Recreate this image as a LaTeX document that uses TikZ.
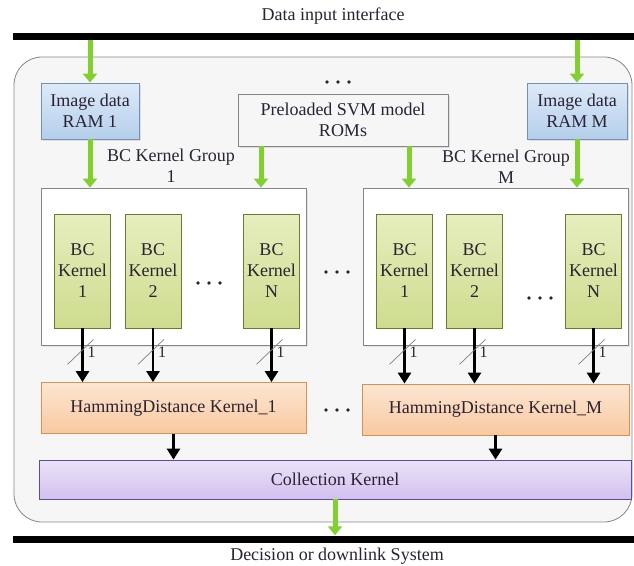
\documentclass[tikz,border=0pt]{standalone}
\usepackage{fontspec}
\setmainfont{Liberation Serif}
\usetikzlibrary{arrows.meta,calc,shadows}
\definecolor{txt}{HTML}{2B2233}
\definecolor{ramline}{HTML}{7590B2}
\definecolor{ramtop}{HTML}{DDEAF8}
\definecolor{rambot}{HTML}{B4CFEB}
\definecolor{kline}{HTML}{6C7A36}
\definecolor{ktop}{HTML}{E6EEBE}
\definecolor{kbot}{HTML}{CEDC8E}
\definecolor{hline}{HTML}{D6924F}
\definecolor{htop}{HTML}{FDE6D2}
\definecolor{hbot}{HTML}{F8C9A0}
\definecolor{cline}{HTML}{5B4D9C}
\definecolor{ctop}{HTML}{ECE2F9}
\definecolor{cbot}{HTML}{D2C0EE}
\definecolor{grayline}{HTML}{858585}
\definecolor{outerfill}{HTML}{F6F6F6}
\definecolor{greenarrow}{HTML}{82D030}
\begin{document}
\begin{tikzpicture}[x=1pt,y=-1pt,
  every node/.style={font=\fontsize{18}{21}\selectfont, text=txt, inner sep=0pt, align=center},
  box/.style={draw, line width=0.8pt},
  rambox/.style={box, draw=ramline, top color=ramtop, bottom color=rambot,
     minimum width=98pt, minimum height=56pt,
     drop shadow={opacity=0.2, shadow xshift=2pt, shadow yshift=-2pt}},
  svmbox/.style={box, draw=grayline, fill=outerfill,
     minimum width=210pt, minimum height=52pt,
     drop shadow={opacity=0.2, shadow xshift=2pt, shadow yshift=-2pt}},
  groupbox/.style={box, draw=grayline, fill=white,
     minimum width=265pt, minimum height=157pt,
     drop shadow={opacity=0.15, shadow xshift=2pt, shadow yshift=-2pt}},
  kbox/.style={box, draw=kline, top color=ktop, bottom color=kbot,
     minimum width=56pt, minimum height=114pt},
  hdbox/.style={box, draw=hline, top color=htop, bottom color=hbot,
     minimum height=51pt},
  collbox/.style={box, draw=cline, top color=ctop, bottom color=cbot,
     minimum width=592pt, minimum height=39pt},
  barbox/.style={fill=black, minimum width=621pt, minimum height=7pt},
  outerbox/.style={draw=grayline, fill=outerfill, line width=0.8pt, rounded corners=28pt,
     minimum width=618pt, minimum height=465pt},
  garrow/.style={draw=greenarrow, line width=5pt, -{Triangle[width=14pt,length=9pt]}},
  barrow/.style={draw=black, line width=2.6pt, -{Triangle[width=13pt,length=11pt]}},
  slash/.style={draw=gray, line width=0.7pt},
  threedots/.pic={\fill[txt] (-11,0) circle (1.8pt) (0,0) circle (1.8pt) (11,0) circle (1.8pt);}
]
\useasboundingbox (0,0) rectangle (634,565);

% frame and buses
\node[outerbox] (outer) at (323,289.5) {};
\node (title) at (333,16) {Data input interface};
\node[barbox] (topbar) at (323.5,36) {};
\node[barbox] (botbar) at (323.5,539) {};
\node (bottomtext) at (337,556) {Decision or downlink System};

% memories
\node[rambox] (ram1) at (90,111) {Image data\\RAM 1};
\node[rambox, minimum width=100pt] (ramM) at (577,111) {Image data\\RAM M};
\node[svmbox] (svm) at (343,120) {Preloaded SVM model\\ROMs};
\pic at (338,82) {threedots};

% groups
\node[groupbox] (g1) at (173.5,266.5) {};
\node[groupbox] (gM) at (495.5,266.5) {};
\node (g1label) at (171,165.5) {BC Kernel Group\\1};
\node (gMlabel) at (506,167) {BC Kernel Group\\M};

% kernels
\node[kbox] (k11) at (82.5,271) {BC\\Kernel\\1};
\node[kbox] (k12) at (153,271) {BC\\Kernel\\2};
\node[kbox] (k1n) at (271.5,271) {BC\\Kernel\\N};
\node[kbox] (km1) at (404.5,271) {BC\\Kernel\\1};
\node[kbox] (km2) at (474.5,271) {BC\\Kernel\\2};
\node[kbox] (kmn) at (593.5,271) {BC\\Kernel\\N};
\pic at (209,283) {threedots};
\pic at (337,272) {threedots};
\pic at (540,298) {threedots};

% hamming distance and collection
\node[hdbox, minimum width=265pt] (hd1) at (173.5,408) {HammingDistance Kernel\_1};
\node[hdbox, minimum width=267pt] (hdM) at (495.5,409.5) {HammingDistance Kernel\_M};
\pic at (337,410) {threedots};
\node[collbox] (coll) at (335,479.5) {Collection Kernel};

% green arrows
\coordinate (s1) at ($(svm.south)+(-82,0)$);
\coordinate (s2) at ($(svm.south)+(66,0)$);
\draw[garrow] (ram1.north |- topbar.south) -- (ram1.north);
\draw[garrow] (ramM.north |- topbar.south) -- (ramM.north);
\draw[garrow] (ram1.south) -- (ram1.south |- g1.north);
\draw[garrow] (s1) -- (s1 |- g1.north);
\draw[garrow] (s2) -- (s2 |- gM.north);
\draw[garrow] (ramM.south) -- (ramM.south |- gM.north);
\draw[garrow] (coll.south) -- (coll.south |- botbar.north);

% black arrows with bus width marks
\foreach \k/\h in {k11/hd1,k12/hd1,k1n/hd1,km1/hdM,km2/hdM,kmn/hdM}{
  \draw[barrow] (\k.south) -- (\k.south |- \h.north);
  \draw[slash] ($(\k.south)+(-15,36)$) -- ($(\k.south)+(11,11)$);
  \node[font=\fontsize{16}{16}\selectfont, anchor=west] at ($(\k.south)+(5,24)$) {1};
}
\draw[barrow] (hd1.south) -- (hd1.south |- coll.north);
\draw[barrow] (hdM.south) -- (hdM.south |- coll.north);
\end{tikzpicture}
\end{document}
